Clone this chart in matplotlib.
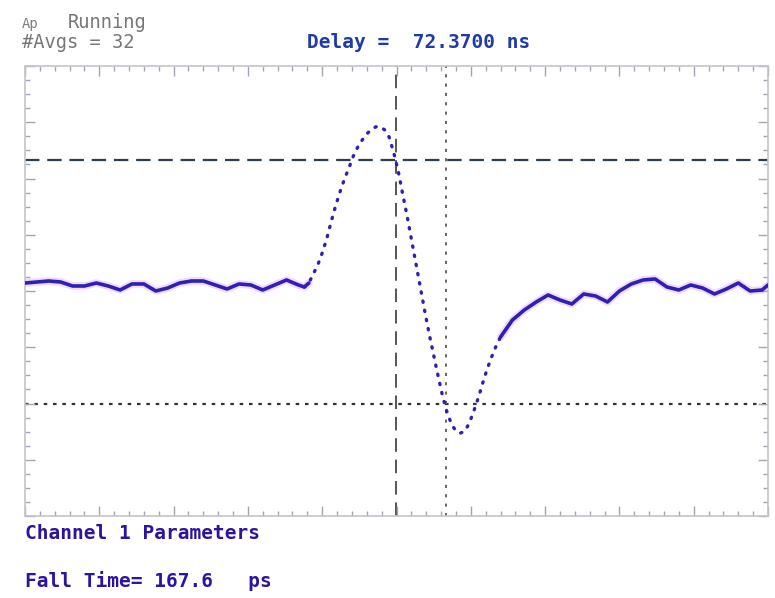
import numpy as np
import matplotlib
matplotlib.use("Agg")
import matplotlib.pyplot as plt
from matplotlib.ticker import MultipleLocator

# time axis in ps from the left edge of the screen (250 ps/div), amplitude in divisions
t_ps = np.array([
    0, 40, 80, 120, 160, 200, 240, 280, 320, 360, 400, 440, 480, 520, 560, 600,
    640, 680, 720, 760, 800, 840, 880, 920, 940,
    955, 970, 985, 1000, 1015, 1030, 1045, 1060, 1075, 1090, 1105, 1120, 1135,
    1150, 1165, 1180, 1195, 1210, 1225, 1240, 1255, 1270, 1285, 1300, 1315,
    1330, 1345, 1360, 1375, 1390, 1405, 1420, 1435, 1450, 1465, 1480, 1495,
    1510, 1525, 1540, 1555, 1570, 1585, 1600,
    1640, 1680, 1720, 1760, 1800, 1840, 1880, 1920, 1960, 2000, 2040, 2080,
    2120, 2160, 2200, 2240, 2280, 2320, 2360, 2400, 2440, 2480, 2500])
volts_div = np.array([
    0.142, 0.160, 0.178, 0.160, 0.089, 0.089, 0.142, 0.089, 0.018, 0.125, 0.125,
    0.000, 0.053, 0.142, 0.178, 0.178, 0.107, 0.036, 0.125, 0.107, 0.018, 0.107,
    0.196, 0.107, 0.071,
    0.142, 0.302, 0.463, 0.676, 0.925, 1.228, 1.512, 1.762, 1.993, 2.189, 2.402,
    2.562, 2.687, 2.794, 2.865, 2.918, 2.918, 2.865, 2.740, 2.473, 2.153, 1.744,
    1.352, 0.925, 0.498, 0.071, -0.356, -0.765, -1.139, -1.512, -1.868, -2.153,
    -2.367, -2.491, -2.527, -2.491, -2.349, -2.135, -1.904, -1.637, -1.388,
    -1.174, -0.979, -0.819,
    -0.516, -0.338, -0.196, -0.071, -0.160, -0.231, -0.053, -0.089, -0.196,
    0.000, 0.125, 0.196, 0.214, 0.071, 0.018, 0.107, 0.053, -0.053, 0.036,
    0.142, 0.000, 0.018, 0.107])

# cursors
upper_level = 2.33
lower_level = -2.0
cursor_start_ps = 1248.0
fall_time_ps = 167.6
cursor_stop_ps = cursor_start_ps + fall_time_ps
delay_ns = 72.3700
n_avgs = 32

trace_col = "#2d20b4"
halo_col = "#e060e0"
text_purple = "#2a14a0"
text_blue = "#1f3ca6"
tick_col = "#a4a4b4"

fig = plt.figure(figsize=(7.75, 5.98), dpi=100)
fig.patch.set_facecolor("white")
ax = fig.add_axes([25 / 775, 82 / 598, 743 / 775, 450 / 598])
ax.set_xlim(0, 2500)
ax.set_ylim(-4, 4)

# graticule: ticks on the frame only
ax.xaxis.set_major_locator(MultipleLocator(250))
ax.xaxis.set_minor_locator(MultipleLocator(50))
ax.yaxis.set_major_locator(MultipleLocator(1))
ax.yaxis.set_minor_locator(MultipleLocator(0.25))
ax.tick_params(which="both", direction="in", top=True, right=True,
               labelbottom=False, labelleft=False, color=tick_col, width=1)
ax.tick_params(which="major", length=7)
ax.tick_params(which="minor", length=3.5)
for s in ax.spines.values():
    s.set_color("#c4c4cc")
    s.set_linewidth(1.2)

# waveform: slow parts drawn solid, fast edge drawn as sample dots
fast = (t_ps >= 940) & (t_ps <= 1600)
slow_l = t_ps <= 955
slow_r = t_ps >= 1600
for m in (slow_l, slow_r):
    ax.plot(t_ps[m], volts_div[m], color=halo_col, lw=5.5, alpha=0.25,
            solid_capstyle="round", zorder=2)
    ax.plot(t_ps[m], volts_div[m], color=trace_col, lw=2.6,
            solid_capstyle="round", zorder=3)
ax.plot(t_ps[fast], volts_div[fast], color=trace_col, lw=2.4,
        linestyle=(0, (0.4, 2.4)), dash_capstyle="round", zorder=3)

# measurement cursors
ax.axhline(upper_level, color="#2e3e4e", lw=1.6, dashes=(6.5, 3.5), zorder=1)
ax.axhline(lower_level, color="#333333", lw=1.6, dashes=(1.6, 2.6), zorder=1)
ax.axvline(cursor_start_ps, color="#555555", lw=1.4, dashes=(7, 4), zorder=1)
ax.axvline(cursor_stop_ps, color="#666666", lw=1.4, dashes=(1.6, 3.2), zorder=1)

mono = "DejaVu Sans Mono"
fig.text(22 / 775, 1 - 28 / 598, "Ap", family=mono, fontsize=10,
         color="#808080", va="baseline")
fig.text(68 / 775, 1 - 28 / 598, "Running", family=mono, fontsize=13.5,
         color="#777777", va="baseline")
fig.text(22 / 775, 1 - 48 / 598, f"#Avgs = {n_avgs}", family=mono,
         fontsize=13.5, color="#777777", va="baseline")
fig.text(307 / 775, 1 - 48 / 598, f"Delay =  {delay_ns:.4f} ns", family=mono,
         fontsize=14, weight="bold", color=text_blue, va="baseline")
fig.text(25 / 775, 1 - 539 / 598, "Channel 1 Parameters", family=mono,
         fontsize=14, weight="bold", color=text_purple, va="baseline")
fig.text(25 / 775, 1 - 587 / 598, f"Fall Time= {fall_time_ps:.1f}   ps",
         family=mono, fontsize=14, weight="bold", color=text_purple,
         va="baseline")

fig.savefig("out.png", dpi=100)
